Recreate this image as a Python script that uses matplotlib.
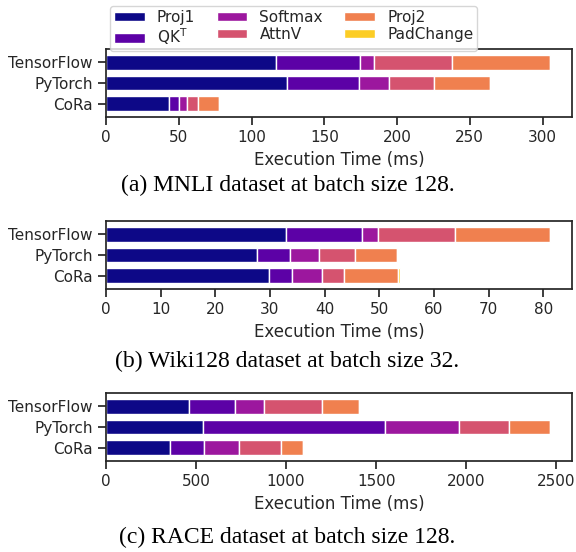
import matplotlib
matplotlib.use("Agg")
import matplotlib.pyplot as plt
import seaborn as sns
import numpy as np

sns.set_theme(style="ticks", context="notebook")
plt.rcParams["font.family"] = ["DejaVu Sans"]

# qismlar va ranglar
qismlar = ["Proj1", "QK$^\\mathrm{T}$", "Softmax", "AttnV", "Proj2", "PadChange"]
ranglar = ["#0d0887", "#5c01a6", "#9c179e", "#d5536f", "#f0804f", "#fccd25"]

# pastdan yuqoriga: CoRa, PyTorch, TensorFlow
tizimlar = ["CoRa", "PyTorch", "TensorFlow"]

# MNLI, batch 128 (ms)
mnli = {
    "CoRa":       [43.2, 7.1, 5.5, 7.6, 14.4, 0.0],
    "PyTorch":    [124.5, 49.2, 20.5, 31.1, 38.8, 0.0],
    "TensorFlow": [117.0, 57.5, 10.0, 53.5, 67.0, 0.0],
}
# Wiki128, batch 32 (ms)
wiki = {
    "CoRa":       [29.9, 4.2, 5.4, 4.1, 9.9, 0.35],
    "PyTorch":    [27.6, 6.1, 5.3, 6.5, 7.8, 0.0],
    "TensorFlow": [32.9, 14.0, 2.9, 14.0, 17.4, 0.0],
}
# RACE, batch 128 (ms)
race = {
    "CoRa":       [355, 192, 190, 236, 119, 0],
    "PyTorch":    [539, 1008, 416, 276, 226, 0],
    "TensorFlow": [463, 255, 157, 323, 208, 0],
}

sarlavhalar = [
    "(a) MNLI dataset at batch size 128.",
    "(b) Wiki128 dataset at batch size 32.",
    "(c) RACE dataset at batch size 128.",
]

W, H = 576, 552
fig = plt.figure(figsize=(W / 100, H / 100), dpi=100)


def px(chap, yuqori, ong, past):
    # piksel koordinatalardan axes joyi
    return [chap / W, 1 - past / H, (ong - chap) / W, (past - yuqori) / H]


joylar = [px(106, 49, 572, 117), px(106, 221, 572, 289), px(106, 393, 572, 461)]
sarlavha_y = [185, 361, 537]

for k, (ax_joy, malumot, sarl, sy) in enumerate(zip(joylar, [mnli, wiki, race], sarlavhalar, sarlavha_y)):
    ax = fig.add_axes(ax_joy)
    y = np.arange(len(tizimlar))
    chap = np.zeros(len(tizimlar))
    for i, nom in enumerate(qismlar):
        qiymat = np.array([malumot[t][i] for t in tizimlar])
        ax.barh(y, qiymat, left=chap, height=0.7, color=ranglar[i],
                edgecolor="white", linewidth=1, label=nom)
        chap += qiymat
    ax.set_yticks(y)
    ax.set_yticklabels(tizimlar)
    ax.set_ylim(-0.65, 2.65)
    ax.set_xlim(0, chap.max() * 1.05)
    ax.set_xlabel("Execution Time (ms)")
    fig.text(0.499, 1 - sy / H, sarl, ha="center", va="center",
             family="Liberation Serif", fontsize=17, color="black")
    if k == 0:
        h, l = ax.get_legend_handles_labels()
        fig.legend(h, l, loc="upper center", bbox_to_anchor=(0.51, 1 - 6 / H),
                   ncol=3, labelspacing=0.12, borderpad=0.25, handleheight=0.55,
                   columnspacing=1.4, borderaxespad=0, frameon=True)

plt.savefig("out.png", dpi=100)
plt.close()
